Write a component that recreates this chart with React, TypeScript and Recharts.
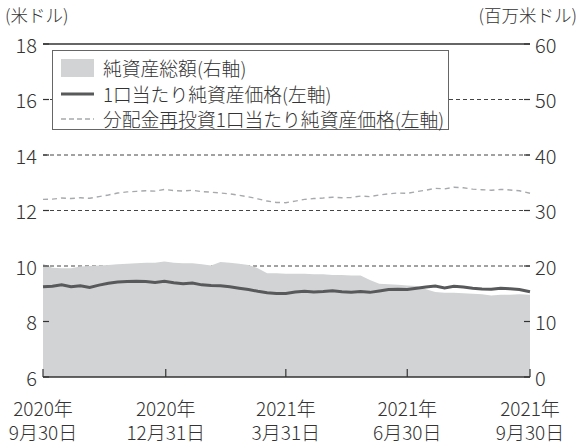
import React from "react";
import {
  ComposedChart,
  Area,
  Line,
  XAxis,
  YAxis,
  CartesianGrid,
  ReferenceLine,
} from "recharts";

// 経過日数（2020/9/30 = 0）
const days = [
  0, 7, 14, 21, 28, 35, 42, 49, 56, 63, 70, 77, 84, 91, 98, 105, 112, 119,
  126, 133, 140, 147, 154, 161, 168, 175, 182, 189, 196, 203, 210, 217, 224,
  231, 238, 245, 252, 259, 266, 273, 280, 287, 294, 301, 308, 315, 322, 329,
  336, 343, 350, 357, 365,
];

// 1口当たり純資産価格（米ドル）
const nav = [
  9.25, 9.27, 9.32, 9.25, 9.29, 9.23, 9.31, 9.38, 9.42, 9.44, 9.45, 9.44,
  9.41, 9.45, 9.4, 9.36, 9.39, 9.32, 9.3, 9.29, 9.25, 9.2, 9.15, 9.09, 9.04,
  9.01, 9.01, 9.06, 9.09, 9.06, 9.08, 9.11, 9.07, 9.05, 9.08, 9.05, 9.1,
  9.15, 9.16, 9.15, 9.2, 9.24, 9.28, 9.21, 9.27, 9.24, 9.2, 9.17, 9.16, 9.2,
  9.18, 9.15, 9.07,
];

// 分配金再投資1口当たり純資産価格（米ドル）
const reinvestNav = [
  12.4, 12.41, 12.45, 12.43, 12.46, 12.44, 12.5, 12.56, 12.63, 12.67, 12.69,
  12.71, 12.7, 12.76, 12.72, 12.7, 12.73, 12.68, 12.66, 12.63, 12.6, 12.55,
  12.49, 12.42, 12.34, 12.29, 12.28, 12.34, 12.4, 12.43, 12.45, 12.48, 12.46,
  12.47, 12.52, 12.5, 12.56, 12.6, 12.63, 12.62, 12.68, 12.73, 12.8, 12.78,
  12.84, 12.82, 12.77, 12.75, 12.73, 12.76, 12.74, 12.71, 12.62,
];

// 純資産総額（百万米ドル）
const netAssets = [
  20.4, 19.7, 19.6, 19.6, 19.9, 20.0, 20.1, 20.2, 20.3, 20.4, 20.5, 20.6,
  20.6, 20.8, 20.6, 20.5, 20.5, 20.3, 20.1, 20.7, 20.6, 20.4, 20.2, 19.6,
  18.7, 18.7, 18.6, 18.6, 18.6, 18.5, 18.5, 18.4, 18.4, 18.3, 18.3, 17.5,
  16.8, 16.7, 16.6, 16.5, 16.4, 15.8, 15.3, 15.2, 15.2, 15.1, 15.0, 14.9,
  14.7, 14.8, 14.8, 14.9, 14.8,
];

const xTicks = [0, 92, 182, 273, 365];
const xTickYears = ["2020年", "2020年", "2021年", "2021年", "2021年"];
const xTickDates = ["9月30日", "12月31日", "3月31日", "6月30日", "9月30日"];
const leftTicks = [6, 8, 10, 12, 14, 16, 18];
const rightTicks = [0, 10, 20, 30, 40, 50, 60];
const gridValues = [10, 12, 14, 16];

const legendNames = [
  "純資産総額(右軸)",
  "1口当たり純資産価格(左軸)",
  "分配金再投資1口当たり純資産価格(左軸)",
];

const data = days.map((day, i) => ({
  day,
  nav: nav[i],
  reinvest: reinvestNav[i],
  assets: netAssets[i],
}));

const FONT = '"Noto Sans CJK JP", "Noto Sans", sans-serif';
const WEIGHT = 300;
const INK = "#333333";
const AREA = "#d1d3d4";
const NAV_LINE = "#58595b";
const REINVEST_LINE = "#a7a9ac";

// 日付ラベルは年と月日の2行
const XTick = (props: any) => {
  const { x, y, payload } = props;
  const i = xTicks.indexOf(payload.value);
  return (
    <g>
      <line x1={x} y1={y} x2={x} y2={y - 8} stroke={INK} strokeWidth={1.2} />
      <text x={x} y={y + 39} textAnchor="middle" fill={INK} fontSize={19} fontWeight={WEIGHT} fontFamily={FONT}>
        <tspan x={x}>{xTickYears[i]}</tspan>
        <tspan x={x} dy={24}>{xTickDates[i]}</tspan>
      </text>
    </g>
  );
};

const LeftTick = (props: any) => {
  const { x, y, payload } = props;
  return (
    <g>
      <line x1={x} y1={y} x2={x + 6} y2={y} stroke={INK} strokeWidth={1.2} />
      <text x={x - 6} y={y} textAnchor="end" dominantBaseline="central" fill={INK} fontSize={20} fontWeight={WEIGHT} fontFamily={FONT}>
        {payload.value}
      </text>
    </g>
  );
};

const RightTick = (props: any) => {
  const { x, y, payload } = props;
  return (
    <g>
      <line x1={x} y1={y} x2={x - 6} y2={y} stroke={INK} strokeWidth={1.2} />
      <text x={x + 5} y={y} textAnchor="start" dominantBaseline="central" fill={INK} fontSize={20} fontWeight={WEIGHT} fontFamily={FONT}>
        {payload.value}
      </text>
    </g>
  );
};

function LegendBox() {
  const rowY = [67, 93, 118];
  return (
    <div
      style={{
        position: "absolute",
        left: 52,
        top: 50,
        width: 397,
        height: 80,
        border: "1px solid #666",
        background: "#fff",
        boxSizing: "border-box",
        fontFamily: FONT,
        fontWeight: WEIGHT,
        fontSize: 18.8,
        color: INK,
      }}
    >
      {legendNames.map((name, i) => (
        <div
          key={name}
          style={{
            position: "absolute",
            left: 0,
            top: rowY[i] - 50 - 13,
            height: 26,
            display: "flex",
            alignItems: "center",
            whiteSpace: "nowrap",
          }}
        >
          <svg width={50} height={26} style={{ display: "block" }}>
            {i === 0 && <rect x={8} y={4} width={33} height={18} fill={AREA} />}
            {i === 1 && <line x1={8} y1={13} x2={41} y2={13} stroke={NAV_LINE} strokeWidth={3} />}
            {i === 2 && (
              <line x1={8} y1={13} x2={41} y2={13} stroke={REINVEST_LINE} strokeWidth={1.4} strokeDasharray="5 3" />
            )}
          </svg>
          <span style={{ lineHeight: "26px" }}>{name}</span>
        </div>
      ))}
    </div>
  );
}

export default function App() {
  return (
    <div style={{ position: "absolute", left: 0, top: 0, width: 581, height: 444, background: "#fff" }}>
      <ComposedChart width={581} height={444} data={data} margin={{ top: 44, right: 0, bottom: 0, left: 0 }}>
        <CartesianGrid
          yAxisId="left"
          vertical={false}
          horizontalValues={gridValues}
          stroke="#444"
          strokeDasharray="4 3"
        />
        <XAxis
          dataKey="day"
          type="number"
          domain={[0, 365]}
          ticks={xTicks}
          height={67}
          tickSize={0}
          tickMargin={0}
          tickLine={false}
          axisLine={{ stroke: INK, strokeWidth: 1.3 }}
          tick={<XTick />}
          interval={0}
        />
        <YAxis
          yAxisId="left"
          domain={[6, 18]}
          ticks={leftTicks}
          width={43}
          tickSize={0}
          tickMargin={0}
          tickLine={false}
          axisLine={false}
          tick={<LeftTick />}
          interval={0}
        />
        <YAxis
          yAxisId="right"
          orientation="right"
          domain={[0, 60]}
          ticks={rightTicks}
          width={51}
          tickSize={0}
          tickMargin={0}
          tickLine={false}
          axisLine={false}
          tick={<RightTick />}
          interval={0}
        />
        <Area
          yAxisId="right"
          type="linear"
          dataKey="assets"
          stroke="none"
          fill={AREA}
          fillOpacity={1}
          isAnimationActive={false}
        />
        <ReferenceLine yAxisId="left" y={18} stroke={INK} strokeWidth={1.3} />
        <Line
          yAxisId="left"
          type="linear"
          dataKey="reinvest"
          stroke={REINVEST_LINE}
          strokeWidth={1.4}
          strokeDasharray="5 4"
          dot={false}
          isAnimationActive={false}
        />
        <Line
          yAxisId="left"
          type="linear"
          dataKey="nav"
          stroke={NAV_LINE}
          strokeWidth={3}
          dot={false}
          isAnimationActive={false}
        />
      </ComposedChart>
      <div style={{ position: "absolute", left: 5, top: 4, fontFamily: FONT, fontWeight: WEIGHT, fontSize: 17.5, color: INK, lineHeight: "22px" }}>
        (米ドル)
      </div>
      <div style={{ position: "absolute", right: 4, top: 4, fontFamily: FONT, fontWeight: WEIGHT, fontSize: 17.5, color: INK, lineHeight: "22px" }}>
        (百万米ドル)
      </div>
      <LegendBox />
    </div>
  );
}
